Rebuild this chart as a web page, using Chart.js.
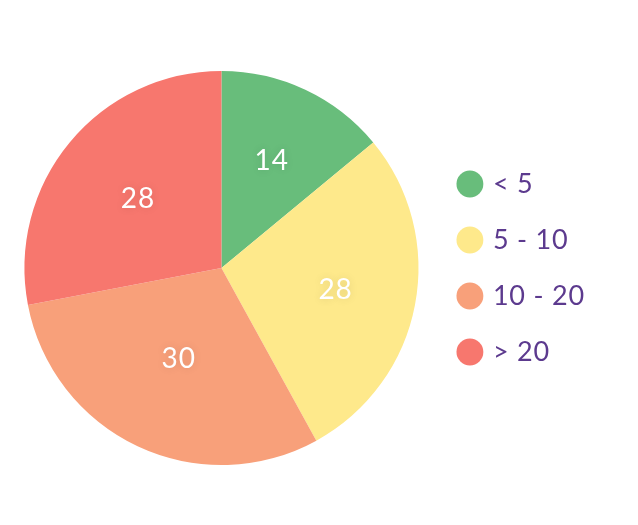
<!DOCTYPE html>
<html>
<head>
<meta charset="utf-8">
<script src="https://cdn.jsdelivr.net/npm/chart.js@4"></script>
<style>
  html, body { margin: 0; padding: 0; background: #fff; }
  #wrap { width: 638px; height: 525px; }
</style>
</head>
<body>
<div id="wrap"><canvas id="chart"></canvas></div>
<script>
const categories = ['< 5', '5 - 10', '10 - 20', '> 20']
const values = [14, 28, 30, 28]
const colors = ['#68bd7b', '#fee98b', '#f8a07a', '#f7776e']

const ctx = document.getElementById('chart')

// the original font is a bit wider than Lato
const spacing = {
    id: 'spacing',
    beforeLayout(chart) { chart.ctx.letterSpacing = '0.8px' },
    beforeDraw(chart) { chart.ctx.letterSpacing = '0.8px' }
}

// write the value inside each slice
const sliceLabels = {
    id: 'sliceLabels',
    afterDatasetsDraw(chart, args, opts) {
        const c = chart.ctx
        const meta = chart.getDatasetMeta(0)
        c.save()
        c.letterSpacing = '1px'
        c.font = '28px Lato'
        c.fillStyle = '#ffffff'
        c.textAlign = 'center'
        c.textBaseline = 'middle'
        c.shadowColor = 'rgba(0,0,0,0.12)'
        c.shadowBlur = 8
        meta.data.forEach((arc, i) => {
            const { x, y, startAngle, endAngle, outerRadius } = arc.getProps(['x', 'y', 'startAngle', 'endAngle', 'outerRadius'], true)
            const mid = (startAngle + endAngle) / 2
            const r = outerRadius * (opts.radius[i] || 0.6)
            c.fillText(String(values[i]), x + Math.cos(mid) * r, y + Math.sin(mid) * r)
        })
        c.restore()
    }
}

new Chart(ctx, {
    type: 'pie',
    data: {
        labels: categories,
        datasets: [{
            data: values,
            backgroundColor: colors,
            borderWidth: 0
        }]
    },
    options: {
        responsive: true,
        maintainAspectRatio: false,
        animation: false,
        layout: { padding: { top: 71, bottom: 60, left: 11.5, right: 43 } },
        plugins: {
            tooltip: { enabled: false },
            sliceLabels: { radius: [0.6, 0.59, 0.51, 0.55] },
            legend: {
                position: 'right',
                labels: {
                    usePointStyle: true,
                    pointStyle: 'circle',
                    boxHeight: 19,
                    boxWidth: 19,
                    padding: 29,
                    color: '#5c3a8e',
                    font: { family: 'Lato', size: 27 }
                }
            }
        }
    },
    plugins: [spacing, sliceLabels]
})
</script>
</body>
</html>
